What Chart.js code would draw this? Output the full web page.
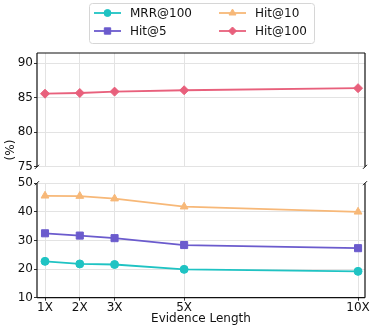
<!DOCTYPE html>
<html>
<head>
<meta charset="utf-8">
<script src="https://cdn.jsdelivr.net/npm/chart.js@4.4.1/dist/chart.umd.min.js"></script>
<style>
  html, body { margin: 0; padding: 0; background: #fff; }
  #wrap { position: relative; width: 374px; height: 329px; overflow: hidden; }
  #topBox { position: absolute; left: 0; top: 0; width: 374px; height: 175px; }
  #botBox { position: absolute; left: 0; top: 175px; width: 374px; height: 154px; }
  #yTitle {
    position: absolute; left: -9px; top: 142px; width: 40px; height: 16px;
    line-height: 16px; text-align: center; transform: rotate(-90deg);
    font: 12px 'DejaVu Sans', sans-serif; color: #111;
  }
</style>
</head>
<body>
<div id="wrap">
  <div id="topBox"><canvas id="topChart"></canvas></div>
  <div id="botBox"><canvas id="bottomChart"></canvas></div>
  <div id="yTitle">(%)</div>
</div>
<script>
// values
const xLabels = ['1X', '2X', '3X', '5X', '10X'];
const xValues = [1, 2, 3, 5, 10];
const mrr100 = [22.7, 21.8, 21.6, 19.9, 19.2];
const hit5 = [32.5, 31.7, 30.8, 28.4, 27.3];
const hit10 = [45.6, 45.5, 44.6, 41.8, 40.0];
const hit100 = [85.6, 85.7, 85.9, 86.1, 86.4];
const topTicks = [75, 80, 85, 90];
const bottomTicks = [10, 20, 30, 40, 50];

const seriesNames = ['MRR@100', 'Hit@5', 'Hit@10', 'Hit@100'];
const seriesColors = ['#1fc3c3', '#6b5bcd', '#f7b878', '#e8607c'];
const seriesMarkers = ['circle', 'rect', 'triangle', 'rectRot'];
const markerRadius = [4, 5, 4.5, 4.5];

const FONT = "'DejaVu Sans', sans-serif";
const GRID = '#e3e3e3';
const PLOT_LEFT = 37;
const PLOT_RIGHT = 9;

function toPoints(values) {
  return values.map((y, i) => ({ x: xValues[i], y }));
}

function makeDataset(index, values) {
  const color = seriesColors[index];
  return {
    label: seriesNames[index],
    data: toPoints(values),
    borderColor: color,
    backgroundColor: color,
    borderWidth: 1.8,
    pointStyle: seriesMarkers[index],
    pointRadius: markerRadius[index],
    pointBorderWidth: 1,
    pointHoverRadius: markerRadius[index],
    tension: 0
  };
}

// draws the matplotlib-like frame and the axis-break ticks
const spinePlugin = {
  id: 'spines',
  afterDatasetsDraw(chart, args, opts) {
    const { ctx, chartArea: a } = chart;
    const sides = opts.sides || [];
    ctx.save();
    ctx.strokeStyle = '#111';
    ctx.lineWidth = 1.2;
    ctx.beginPath();
    if (sides.includes('top')) { ctx.moveTo(a.left, a.top); ctx.lineTo(a.right, a.top); }
    if (sides.includes('bottom')) { ctx.moveTo(a.left, a.bottom); ctx.lineTo(a.right, a.bottom); }
    if (sides.includes('left')) { ctx.moveTo(a.left, a.top); ctx.lineTo(a.left, a.bottom); }
    if (sides.includes('right')) { ctx.moveTo(a.right, a.top); ctx.lineTo(a.right, a.bottom); }
    ctx.stroke();
    if (opts.breakAt) {
      const y = opts.breakAt === 'bottom' ? a.bottom : a.top;
      ctx.lineWidth = 1;
      ctx.beginPath();
      [a.left, a.right].forEach(x => {
        ctx.moveTo(x - 2, y + 2);
        ctx.lineTo(x + 2, y - 2);
      });
      ctx.stroke();
    }
    ctx.restore();
  }
};

// two-column legend like matplotlib's ncol=2 (filled column by column)
const legendPlugin = {
  id: 'boxLegend',
  afterDraw(chart, args, opts) {
    if (!opts.show) return;
    const ctx = chart.ctx;
    ctx.save();
    ctx.fillStyle = 'rgba(255,255,255,0.85)';
    ctx.strokeStyle = '#d6d6d6';
    ctx.lineWidth = 1;
    ctx.beginPath();
    ctx.roundRect(89.5, 3.5, 225, 40, 3);
    ctx.fill();
    ctx.stroke();

    const colX = [94, 219];
    const rowY = [13, 31];
    seriesNames.forEach((name, i) => {
      const col = Math.floor(i / 2);
      const row = i % 2;
      const x0 = colX[col];
      const y = rowY[row];
      ctx.strokeStyle = seriesColors[i];
      ctx.lineWidth = 1.8;
      ctx.beginPath();
      ctx.moveTo(x0, y);
      ctx.lineTo(x0 + 27, y);
      ctx.stroke();
      ctx.fillStyle = seriesColors[i];
      ctx.strokeStyle = seriesColors[i];
      ctx.lineWidth = 1;
      Chart.helpers.drawPoint(ctx, {
        pointStyle: seriesMarkers[i],
        radius: markerRadius[i] - 0.5,
        rotation: 0,
        borderWidth: 1
      }, x0 + 13.5, y);
      ctx.fillStyle = '#111';
      ctx.font = '12px ' + FONT;
      ctx.textBaseline = 'middle';
      ctx.textAlign = 'left';
      ctx.fillText(name, x0 + 36, y + 0.5);
    });
    ctx.restore();
  }
};

function xScale(showLabels) {
  return {
    type: 'linear',
    min: 0.77,
    max: 10.2,
    afterBuildTicks: scale => { scale.ticks = xValues.map(v => ({ value: v })); },
    afterFit: scale => { scale.height = showLabels ? 31.3 : 0; },
    border: { display: false },
    grid: {
      color: GRID,
      lineWidth: 1,
      drawTicks: showLabels,
      tickLength: 3,
      tickColor: '#333'
    },
    ticks: {
      display: showLabels,
      padding: 0,
      color: '#111',
      font: { family: FONT, size: 12 },
      maxRotation: 0,
      autoSkip: false,
      callback: value => xLabels[xValues.indexOf(value)] || ''
    },
    title: {
      display: showLabels,
      text: 'Evidence Length',
      color: '#111',
      font: { family: FONT, size: 12 },
      padding: { top: 0, bottom: 3 }
    }
  };
}

function yScale(min, max, tickValues) {
  return {
    min,
    max,
    afterBuildTicks: scale => { scale.ticks = tickValues.map(v => ({ value: v })); },
    afterFit: scale => { scale.width = PLOT_LEFT; },
    border: { display: false },
    grid: {
      color: GRID,
      lineWidth: 1,
      drawTicks: true,
      tickLength: 3,
      tickColor: '#333'
    },
    ticks: {
      padding: 1,
      color: '#111',
      font: { family: FONT, size: 12 }
    }
  };
}

const baseOptions = {
  responsive: true,
  maintainAspectRatio: false,
  animation: false,
  events: [],
  clip: false
};

new Chart(document.getElementById('topChart').getContext('2d'), {
  type: 'line',
  data: { datasets: [makeDataset(3, hit100)] },
  options: {
    ...baseOptions,
    layout: { padding: { top: 53, right: PLOT_RIGHT, bottom: 8, left: 0 } },
    plugins: {
      legend: { display: false },
      tooltip: { enabled: false },
      spines: { sides: ['top', 'left', 'right'], breakAt: 'bottom' },
      boxLegend: { show: true }
    },
    scales: {
      x: xScale(false),
      y: yScale(75, 91.5, topTicks)
    }
  },
  plugins: [spinePlugin, legendPlugin]
});

new Chart(document.getElementById('bottomChart').getContext('2d'), {
  type: 'line',
  data: {
    datasets: [
      makeDataset(0, mrr100),
      makeDataset(1, hit5),
      makeDataset(2, hit10)
    ]
  },
  options: {
    ...baseOptions,
    layout: { padding: { top: 8, right: PLOT_RIGHT, bottom: 0, left: 0 } },
    plugins: {
      legend: { display: false },
      tooltip: { enabled: false },
      spines: { sides: ['bottom', 'left', 'right'], breakAt: 'top' },
      boxLegend: { show: false }
    },
    scales: {
      x: xScale(true),
      y: yScale(10, 50, bottomTicks)
    }
  },
  plugins: [spinePlugin, legendPlugin]
});
</script>
</body>
</html>
